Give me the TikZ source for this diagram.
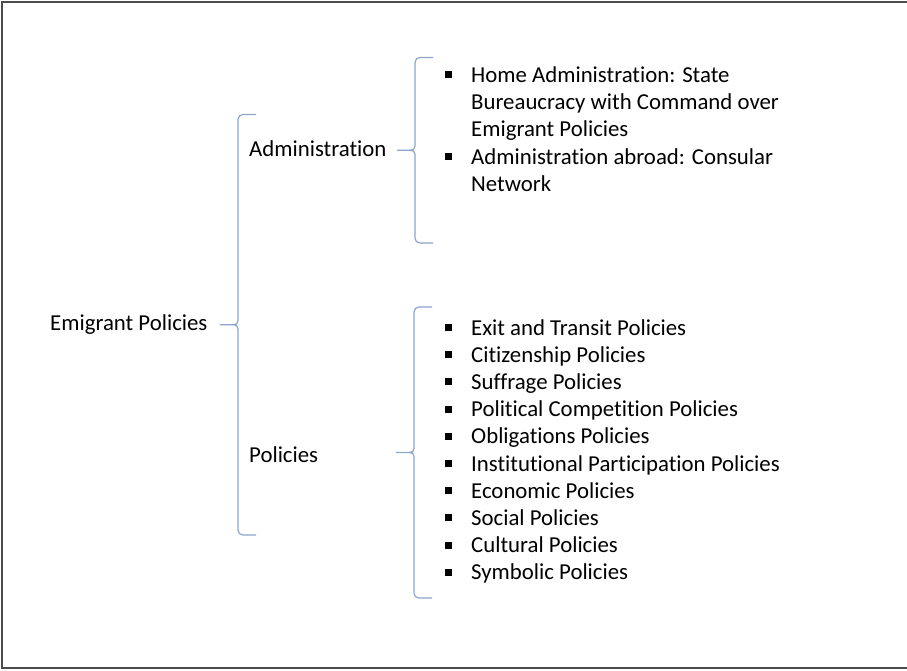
\documentclass[tikz,border=0pt]{standalone}
\usepackage{fontspec}
\setmainfont{Carlito}[Ligatures=NoCommon]
\usetikzlibrary{calc}

\definecolor{bracecol}{RGB}{140,165,205}
\newcommand{\itm}[1]{\makebox[26pt][l]{\rule[4pt]{7pt}{7pt}}#1}
% left curly bracket between two named points with the same x
\newcommand{\wordbrace}[2]{%
  \draw[brc] let \p1=(#1), \p2=(#2), \n1={(\y1+\y2)/2} in
    (\x1,\y1) -- (\x1-13pt,\y1)
    .. controls (\x1-16pt,\y1) and (\x1-18pt,\y1-2pt) .. (\x1-18pt,\y1-5pt)
    -- (\x1-18pt,\n1+4pt)
    .. controls (\x1-18pt,\n1+1pt) and (\x1-20pt,\n1) .. (\x1-23pt,\n1)
    -- (\x1-36pt,\n1)
    (\x1-23pt,\n1)
    .. controls (\x1-20pt,\n1) and (\x1-18pt,\n1-1pt) .. (\x1-18pt,\n1-4pt)
    -- (\x1-18pt,\y2+5pt)
    .. controls (\x1-18pt,\y2+2pt) and (\x1-16pt,\y2) .. (\x1-13pt,\y2)
    -- (\x2,\y2);}

\tikzset{
  lbl/.style={anchor=base west, inner sep=0pt, font=\fontsize{22.8}{27}\selectfont},
  brc/.style={draw=bracecol, line width=1.2pt, line join=round},
  frame/.style={line width=1.6pt, black!70}
}

\begin{document}
\begin{tikzpicture}[x=1pt,y=-1pt]
    \useasboundingbox (0,0) rectangle (907,670);
    \draw[frame] (907,2) -- (2,2) -- (2,668) -- (907,668);

    % first level
    \node[lbl] (root) at (50,330) {Emigrant Policies};
    \coordinate (roottop) at (256,114.5);
    \coordinate (rootbot) at (256,535);
    \wordbrace{roottop}{rootbot}

    % second level
    \node[lbl] (admin) at (249,156.5) {Administration};
    \node[lbl] (pol) at (249,462) {Policies};

    \coordinate (admintop) at (433,57.5);
    \coordinate (adminbot) at (433,243);
    \wordbrace{admintop}{adminbot}

    \coordinate (poltop) at (432,307);
    \coordinate (polbot) at (432,598);
    \wordbrace{poltop}{polbot}

    % administration items
    \node[lbl] (home1) at (445,82) {\itm{Home Administration: State}};
    \node[lbl] (home2) at (471,109.3) {Bureaucracy with Command over};
    \node[lbl] (home3) at (471,136.6) {Emigrant Policies};
    \node[lbl] (abroad1) at (445,164) {\itm{Administration abroad: Consular}};
    \node[lbl] (abroad2) at (471,191.2) {Network};

    % policy items
    \foreach \t [count=\i from 0] in {Exit and Transit Policies,
        Citizenship Policies, Suffrage Policies,
        Political Competition Policies, Obligations Policies,
        Institutional Participation Policies, Economic Policies,
        Social Policies, Cultural Policies, Symbolic Policies}
      \node[lbl] (item\i) at (445,335+27.2*\i) {\itm{\t}};
\end{tikzpicture}
\end{document}
